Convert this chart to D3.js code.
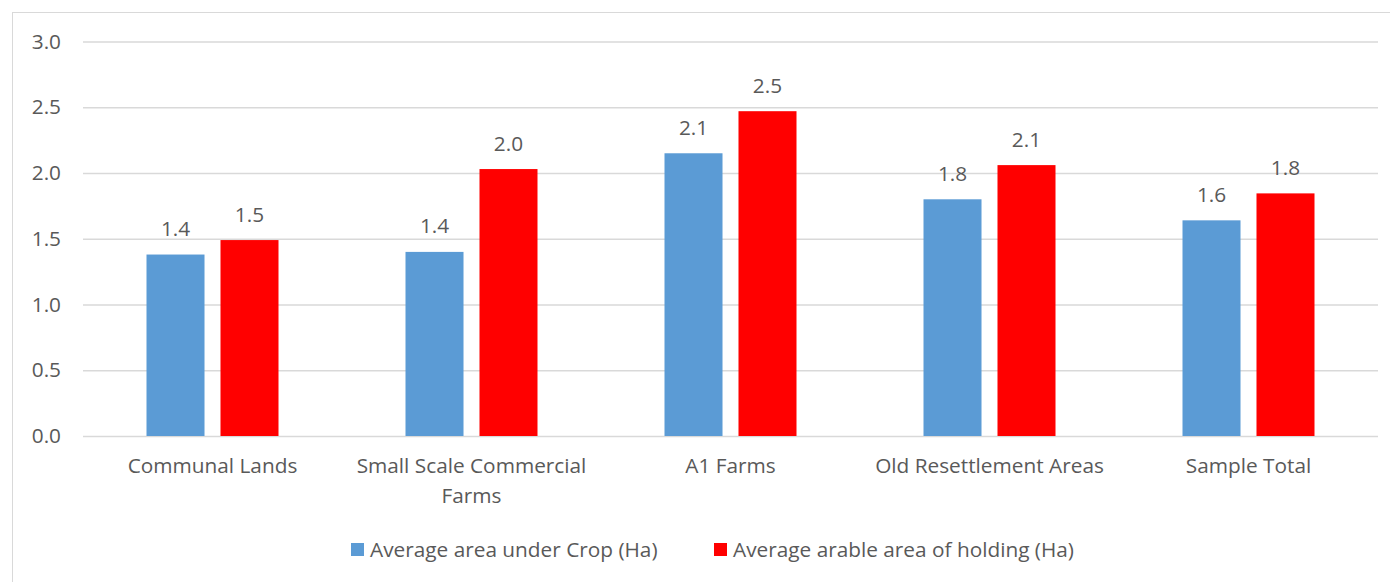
<!DOCTYPE html>
<html>
<head>
<meta charset="utf-8">
<script src="https://cdn.jsdelivr.net/npm/d3@7"></script>
<style>
  html, body { margin: 0; padding: 0; background: #fff; }
  svg { display: block; }
  text { font-family: "Open Sans", Lato, sans-serif; fill: #595959; }
</style>
</head>
<body>
<svg id="chart" width="1390" height="582"></svg>
<script>
// Average land areas by farming sector (hectares)
const categories = ["Communal Lands", "Small Scale Commercial Farms", "A1 Farms", "Old Resettlement Areas", "Sample Total"];
const seriesNames = ["Average area under Crop (Ha)", "Average arable area of holding (Ha)"];
const areaUnderCrop = [1.38, 1.40, 2.15, 1.80, 1.64];
const arableArea = [1.49, 2.03, 2.47, 2.06, 1.845];
const yTicks = [0, 0.5, 1.0, 1.5, 2.0, 2.5, 3.0];
const colors = ["#5B9BD5", "#FF0000"];

const FONT = 20.8;
const svg = d3.select("#chart");
const W = 1390, H = 582;
const plot = { left: 83, right: 1378, top: 41.5, bottom: 436 };

// chart frame (runs past the right and bottom edges of the canvas)
svg.append("rect")
  .attr("x", 12.5).attr("y", 12.5)
  .attr("width", W).attr("height", H)
  .attr("fill", "#fff").attr("stroke", "#D9D9D9").attr("stroke-width", 1);

const x0 = d3.scaleBand().domain(categories).range([plot.left, plot.right]).padding(0);
const y = d3.scaleLinear().domain([0, 3]).range([plot.bottom, plot.top]);

// gridlines and y labels
const yAxis = d3.axisLeft(y).tickValues(yTicks).tickFormat(d3.format(".1f"))
  .tickSize(-(plot.right - plot.left)).tickPadding(22);
const gy = svg.append("g").attr("transform", `translate(${plot.left},0)`).call(yAxis);
gy.select(".domain").remove();
gy.selectAll(".tick line").attr("stroke", "#D9D9D9").attr("stroke-width", 1.3);
gy.selectAll(".tick text").attr("font-size", FONT).attr("fill", "#595959")
  .attr("font-family", "'Open Sans', Lato, sans-serif");

// grouped bars
const groupWidth = 132;
const rows = categories.map((c, i) => ({ cat: c, values: [areaUnderCrop[i], arableArea[i]] }));
const groups = svg.append("g").selectAll("g").data(rows).join("g");
groups.each(function (d) {
  const cx = x0(d.cat) + x0.bandwidth() / 2;
  const x1 = d3.scaleBand().domain([0, 1]).range([cx - groupWidth / 2, cx + groupWidth / 2]).paddingInner(0.216);
  const g = d3.select(this);
  g.selectAll("rect").data(d.values).join("rect")
    .attr("x", (v, j) => x1(j))
    .attr("width", x1.bandwidth())
    .attr("y", v => y(v))
    .attr("height", v => y(0) - y(v))
    .attr("fill", (v, j) => colors[j]);
  g.selectAll("text.val").data(d.values).join("text")
    .attr("class", "val")
    .attr("x", (v, j) => x1(j) + x1.bandwidth() / 2)
    .attr("y", v => y(v) - 18.5)
    .attr("text-anchor", "middle")
    .attr("font-size", FONT)
    .text(v => d3.format(".1f")(v));
});

// category labels (wrapped)
const wrapped = {
  "Small Scale Commercial Farms": ["Small Scale Commercial", "Farms"]
};
categories.forEach(c => {
  const lines = wrapped[c] || [c];
  const t = svg.append("text")
    .attr("x", x0(c) + x0.bandwidth() / 2)
    .attr("y", 473)
    .attr("text-anchor", "middle")
    .attr("font-size", FONT);
  lines.forEach((l, k) => t.append("tspan")
    .attr("x", x0(c) + x0.bandwidth() / 2)
    .attr("dy", k === 0 ? 0 : 30)
    .text(l));
});

// legend
const legendItems = [
  { name: seriesNames[0], color: colors[0], x: 351 },
  { name: seriesNames[1], color: colors[1], x: 714 }
];
const lg = svg.append("g");
legendItems.forEach(it => {
  lg.append("rect").attr("x", it.x).attr("y", 543).attr("width", 13).attr("height", 13).attr("fill", it.color);
  lg.append("text").attr("x", it.x + 19).attr("y", 557).attr("font-size", FONT).text(it.name);
});
</script>
</body>
</html>
